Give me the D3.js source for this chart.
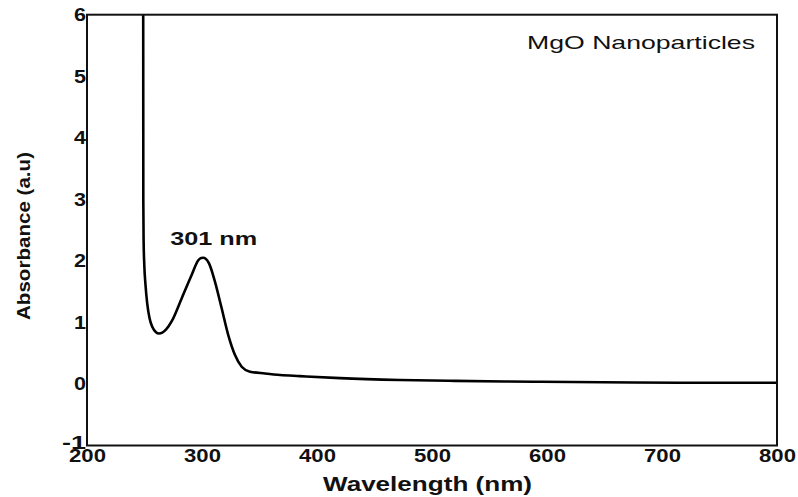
<!DOCTYPE html>
<html>
<head>
<meta charset="utf-8">
<script src="https://cdn.jsdelivr.net/npm/d3@7/dist/d3.min.js"></script>
<style>
	body { margin: 0; background: #fff; }
	text { font-family: "Liberation Sans", Arial, sans-serif; fill: #111; }
</style>
</head>
<body>
<div id="chart"></div>
<script>
// spectrum
const wavelength = [248.85, 248.96, 249.22, 249.83, 250.87, 252.35, 254.35, 256.96, 260.0, 262.6, 265.5, 269.0, 273.7, 282.3, 291.0, 296.8, 299.3, 301.1, 303.2, 306.1, 311.3, 317.1, 322.9, 328.7, 334.5, 341.7, 354.8, 368.0, 385.0, 420.0, 472.0, 520.0, 588.0, 675.0, 740.0, 800.0];
const absorbance = [7.0, 2.99, 2.34, 1.93, 1.61, 1.31, 1.07, 0.92, 0.84, 0.82, 0.835, 0.89, 1.02, 1.39, 1.77, 2.01, 2.045, 2.05, 2.035, 1.96, 1.66, 1.23, 0.79, 0.47, 0.28, 0.20, 0.17, 0.145, 0.128, 0.095, 0.065, 0.05, 0.037, 0.024, 0.02, 0.02];
const xTicks = [200, 300, 400, 500, 600, 700, 800];
const yTicks = [-1, 0, 1, 2, 3, 4, 5, 6];
const xTitle = "Wavelength (nm)";
const yTitle = "Absorbance (a.u)";
const sampleLabel = "MgO Nanoparticles";
const peakLabel = "301 nm";
const peakWavelength = 301;
const peakAbsorbance = 2.05;

const W = 798, H = 497;
const margin = {left: 87, right: 21, top: 14.7, bottom: 51.5};
const iw = W - margin.left - margin.right;
const ih = H - margin.top - margin.bottom;

// the source text is drawn wide, so stretch glyphs to the measured widths
function stretch(sel, width) {
	sel.attr("textLength", width).attr("lengthAdjust", "spacingAndGlyphs");
}

const svg = d3.select("#chart").append("svg")
	.attr("width", W)
	.attr("height", H);

const x = d3.scaleLinear().domain([200, 800]).range([0, iw]);
const y = d3.scaleLinear().domain([-1, 6]).range([ih, 0]);

const g = svg.append("g").attr("transform", `translate(${margin.left},${margin.top})`);

g.append("clipPath").attr("id", "clip")
	.append("rect").attr("width", iw).attr("height", ih);

// y axis labels
const yAxis = g.append("g")
	.call(d3.axisLeft(y).tickValues(yTicks).tickSize(0).tickPadding(1).tickFormat(d => String(d)));
yAxis.select(".domain").remove();
yAxis.selectAll("text")
	.attr("font-size", 18).attr("font-weight", "bold").attr("fill", "#111")
	.attr("font-family", "Liberation Sans, Arial, sans-serif")
	.each(function() { stretch(d3.select(this), this.textContent.length * 12); });
// the -1 label sits a touch higher so it only grazes the 200 label
yAxis.selectAll(".tick").filter(d => d === -1).select("text").attr("y", -3);

// x axis labels
const xAxis = g.append("g")
	.attr("transform", `translate(0,${ih})`)
	.call(d3.axisBottom(x).tickValues(xTicks).tickSize(0).tickPadding(3.5).tickFormat(d3.format("d")));
xAxis.select(".domain").remove();
xAxis.selectAll("text")
	.attr("font-size", 18).attr("font-weight", "bold").attr("fill", "#111")
	.attr("font-family", "Liberation Sans, Arial, sans-serif")
	.each(function() { stretch(d3.select(this), this.textContent.length * 12.3); });

// curve
const line = d3.line()
	.x((d, i) => x(wavelength[i]))
	.y(d => y(d))
	.curve(d3.curveMonotoneX);

g.append("path")
	.datum(absorbance)
	.attr("clip-path", "url(#clip)")
	.attr("fill", "none")
	.attr("stroke", "#000")
	.attr("stroke-width", 2.6)
	.attr("stroke-linejoin", "round")
	.attr("d", line);

// frame
g.append("rect")
	.attr("width", iw).attr("height", ih)
	.attr("fill", "none").attr("stroke", "#111").attr("stroke-width", 2);

// peak annotation
g.append("text")
	.attr("x", x(peakWavelength) - 33)
	.attr("y", y(peakAbsorbance) - 13)
	.attr("font-size", 19).attr("font-weight", "bold")
	.text(peakLabel)
	.call(stretch, 87);

// sample name
g.append("text")
	.attr("x", 527 - margin.left)
	.attr("y", 49 - margin.top)
	.attr("font-size", 18.5)
	.text(sampleLabel)
	.call(stretch, 228);

// axis titles
svg.append("text")
	.attr("x", 323).attr("y", 490.5)
	.attr("font-size", 20).attr("font-weight", "bold")
	.text(xTitle)
	.call(stretch, 209);

svg.append("text")
	.attr("transform", `translate(30,320) rotate(-90)`)
	.attr("font-size", 19).attr("font-weight", "bold")
	.text(yTitle)
	.call(stretch, 168);
</script>
</body>
</html>
